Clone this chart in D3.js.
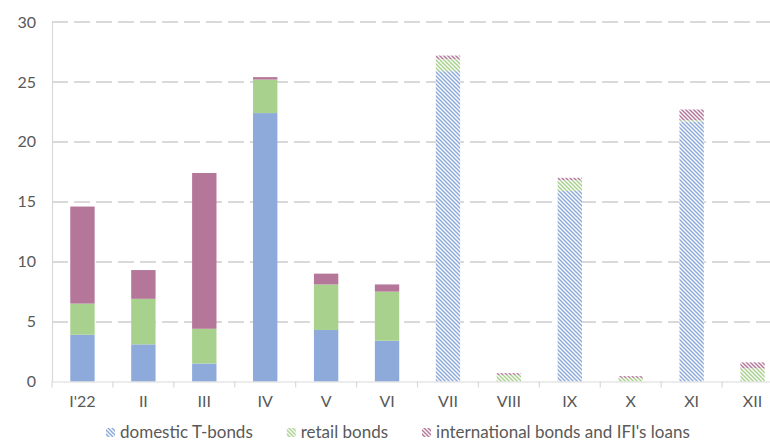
<!DOCTYPE html>
<html>
<head>
<meta charset="utf-8">
<script src="https://cdn.jsdelivr.net/npm/d3@7"></script>
<style>
  body { margin: 0; background: #fff; }
  svg { display: block; font-family: Lato, "Open Sans", sans-serif; }
</style>
</head>
<body>
<script>
const width = 770;
const height = 441;

// months of 2022, planned months from VII on
const months = ["I'22", "II", "III", "IV", "V", "VI", "VII", "VIII", "IX", "X", "XI", "XII"];
const planned = [false, false, false, false, false, false, true, true, true, true, true, true];

// series values (bn)
const domestic = [3.9, 3.1, 1.5, 22.4, 4.3, 3.4, 25.9, 0, 15.9, 0, 21.7, 0];
const retail = [2.6, 3.8, 2.9, 2.8, 3.8, 4.1, 1.0, 0.55, 0.9, 0.3, 0.1, 1.1];
const intl = [8.1, 2.4, 13.0, 0.2, 0.9, 0.6, 0.3, 0.15, 0.2, 0.15, 0.9, 0.5];

const seriesNames = ["domestic T-bonds", "retail bonds", "international bonds and IFI's loans"];
const seriesColors = ["#8eaadb", "#a9d18e", "#b47799"];
const yTicks = [0, 5, 10, 15, 20, 25, 30];

const margin = {top: 22, left: 52, bottom: 59};
const plotRight = 783; // the plot runs past the right edge (cropped)

const rows = months.map((m, i) => ({
  month: m, planned: planned[i],
  domestic: domestic[i], retail: retail[i], intl: intl[i]
}));
const keys = ["domestic", "retail", "intl"];
const stack = d3.stack().keys(keys)(rows);

const x = d3.scaleBand().domain(months).range([margin.left, plotRight]).paddingInner(0.6).paddingOuter(0.3);
const y = d3.scaleLinear().domain([0, 30]).range([height - margin.bottom - 0.5, margin.top]);

const svg = d3.select("body").append("svg")
  .attr("width", width)
  .attr("height", height);

// hatch patterns for planned months
const defs = svg.append("defs");
seriesColors.forEach((c, i) => {
  const p = defs.append("pattern")
    .attr("id", `hatch-${i}`)
    .attr("patternUnits", "userSpaceOnUse")
    .attr("width", 4)
    .attr("height", 4);
  p.append("rect").attr("width", 4).attr("height", 4).attr("fill", "#fff");
  p.append("path")
    .attr("d", "M-1,-1L5,5M-1,3L1,5M3,-1L5,1")
    .attr("stroke", c)
    .attr("stroke-width", 1.5);
});

// gridlines
svg.append("g")
  .selectAll("line")
  .data(yTicks.filter(d => d > 0))
  .join("line")
    .attr("x1", margin.left)
    .attr("x2", width)
    .attr("y1", d => Math.round(y(d)))
    .attr("y2", d => Math.round(y(d)))
    .attr("stroke", "#d9d9d9")
    .attr("stroke-width", 2)
    .attr("stroke-dasharray", "16,6");

// y axis
const yAxis = svg.append("g")
  .attr("transform", `translate(${margin.left},0)`)
  .call(d3.axisLeft(y).tickValues(yTicks).tickSize(0).tickPadding(16));
yAxis.select(".domain").attr("stroke", "#d9d9d9").attr("stroke-width", 1.2);
yAxis.selectAll("text").attr("font-size", 16).attr("fill", "#595959").attr("font-family", "Lato, sans-serif");

// bars
const layer = svg.append("g")
  .selectAll("g")
  .data(stack)
  .join("g");

layer.selectAll("rect")
  .data((s, i) => s.map(d => ({d, i})))
  .join("rect")
    .attr("x", o => x(o.d.data.month))
    .attr("width", x.bandwidth())
    .attr("y", o => y(o.d[1]))
    .attr("height", o => Math.max(0, y(o.d[0]) - y(o.d[1])))
    .attr("fill", o => o.d.data.planned ? `url(#hatch-${o.i})` : seriesColors[o.i]);

// x axis
const xAxis = svg.append("g")
  .attr("transform", `translate(0,${y(0)})`)
  .call(d3.axisBottom(x).tickSize(0).tickPadding(14));
xAxis.select(".domain").attr("stroke", "#d9d9d9").attr("stroke-width", 1.2);
xAxis.selectAll("text").attr("font-size", 16).attr("fill", "#595959").attr("font-family", "Lato, sans-serif");

// tick marks between categories
xAxis.append("g")
  .selectAll("line")
  .data(d3.range(months.length + 1))
  .join("line")
    .attr("x1", i => margin.left + i * (plotRight - margin.left) / months.length)
    .attr("x2", i => margin.left + i * (plotRight - margin.left) / months.length)
    .attr("y1", 0)
    .attr("y2", 6)
    .attr("stroke", "#d9d9d9")
    .attr("stroke-width", 1.2);

// legend
const legend = svg.append("g").attr("transform", `translate(0,${height - 3})`);
let lx = 106;
seriesNames.forEach((name, i) => {
  const g = legend.append("g").attr("transform", `translate(${lx},0)`);
  g.append("rect")
    .attr("x", 0).attr("y", -10)
    .attr("width", 9).attr("height", 9)
    .attr("fill", `url(#hatch-${i})`);
  const t = g.append("text")
    .attr("x", 14)
    .attr("y", 0)
    .attr("font-size", 17)
    .attr("fill", "#595959")
    .text(name);
  lx += 14 + t.node().getComputedTextLength() + 34;
});
</script>
</body>
</html>
